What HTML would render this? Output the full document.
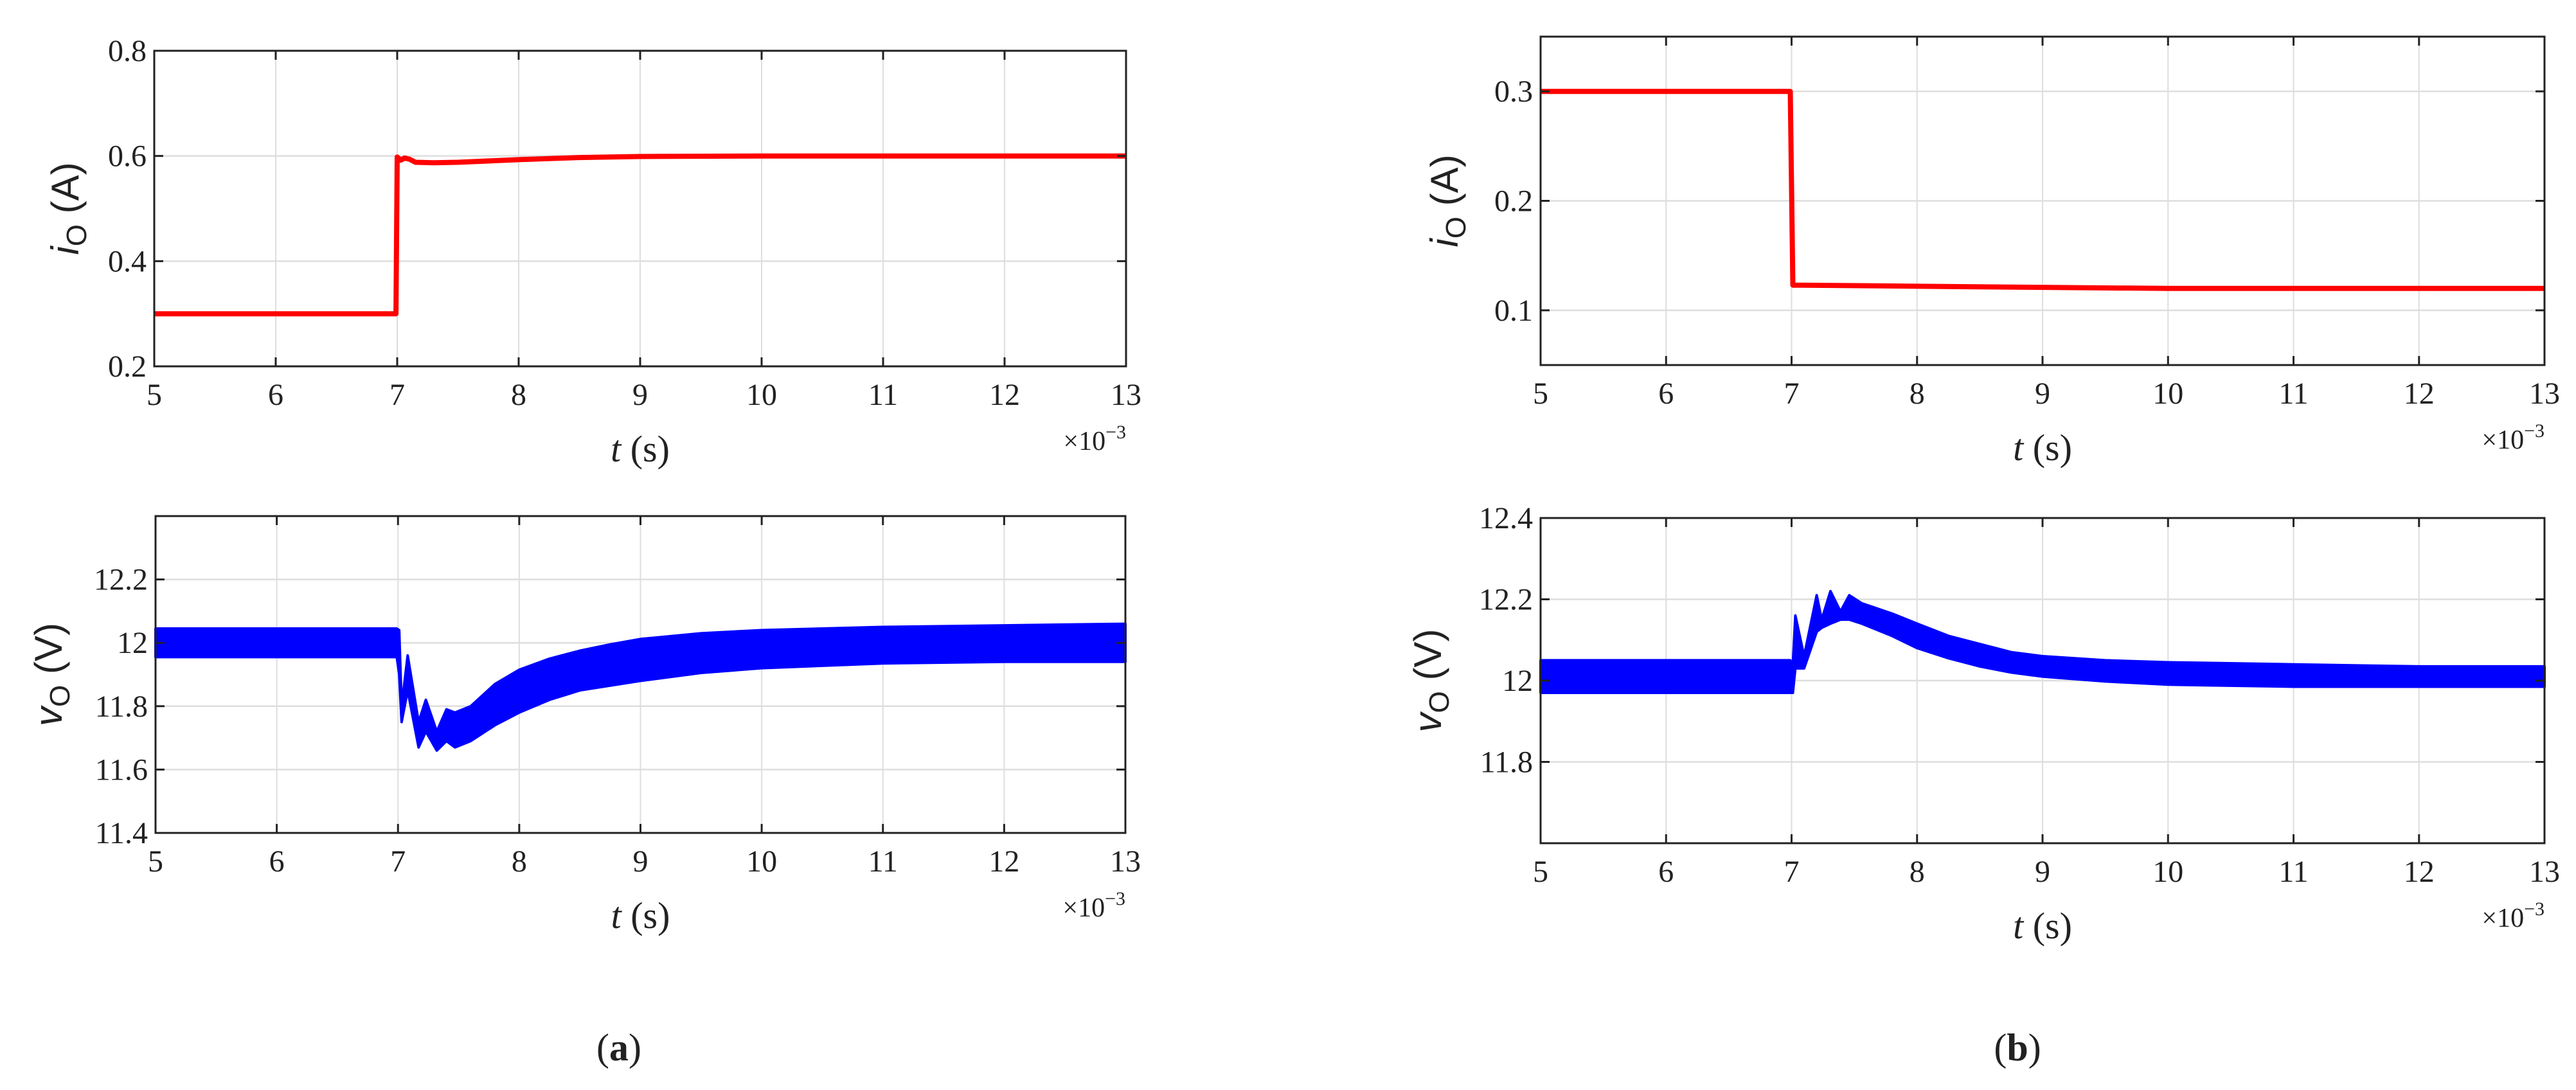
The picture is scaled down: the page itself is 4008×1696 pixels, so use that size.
<!DOCTYPE html>
<html><head><meta charset="utf-8"><style>
html,body{margin:0;padding:0;background:#fff;}
svg{display:block;}
</style></head><body>
<svg id="fig" xmlns="http://www.w3.org/2000/svg" width="4008" height="1696" viewBox="0 0 4008 1696"></svg>
<script>
// ---- data ----
const xTicks = [5,6,7,8,9,10,11,12,13];
// (a) top: output current
const aiT = [5, 6.99, 7.0, 7.03, 7.06, 7.1, 7.15, 7.3, 7.5, 8, 8.5, 9, 10, 11, 12, 13];
const aiV = [0.3, 0.3, 0.598, 0.592, 0.596, 0.594, 0.588, 0.587, 0.588, 0.593, 0.597, 0.599, 0.6, 0.6, 0.6, 0.6];
const aiYTicks = [0.2, 0.4, 0.6, 0.8];
// (a) bottom: output voltage envelope
const avT = [5, 6.99, 7.01, 7.03, 7.08, 7.17, 7.23, 7.32, 7.4, 7.47, 7.6, 7.8, 8.0, 8.25, 8.5, 8.75, 9, 9.5, 10, 11, 12, 13];
const avUp = [12.045, 12.045, 12.04, 11.8, 11.96, 11.75, 11.82, 11.72, 11.79, 11.78, 11.80, 11.87, 11.915, 11.95, 11.975, 11.995, 12.012, 12.03, 12.04, 12.05, 12.055, 12.06];
const avLo = [11.955, 11.955, 11.9, 11.75, 11.85, 11.67, 11.72, 11.66, 11.69, 11.67, 11.69, 11.74, 11.78, 11.82, 11.85, 11.865, 11.88, 11.905, 11.92, 11.935, 11.94, 11.94];
const avYTicks = [11.4, 11.6, 11.8, 12, 12.2];
// (b) top: output current
const biT = [5, 6.99, 7.01, 7.1, 8, 9, 10, 11, 12, 13];
const biV = [0.3, 0.3, 0.123, 0.123, 0.122, 0.121, 0.12, 0.12, 0.12, 0.12];
const biYTicks = [0.1, 0.2, 0.3];
// (b) bottom: output voltage envelope
const bvT = [5, 6.99, 7.01, 7.03, 7.1, 7.2, 7.24, 7.31, 7.39, 7.46, 7.56, 7.8, 8, 8.25, 8.5, 8.75, 9, 9.5, 10, 11, 12, 13];
const bvUp = [12.05, 12.05, 12.04, 12.16, 12.06, 12.21, 12.15, 12.22, 12.17, 12.21, 12.19, 12.165, 12.14, 12.11, 12.09, 12.07, 12.06, 12.05, 12.045, 12.04, 12.035, 12.035];
const bvLo = [11.97, 11.97, 11.97, 12.03, 12.03, 12.12, 12.13, 12.14, 12.15, 12.15, 12.14, 12.11, 12.08, 12.055, 12.035, 12.02, 12.01, 11.998, 11.99, 11.985, 11.985, 11.985];
const bvYTicks = [11.8, 12, 12.2, 12.4];

const NS = "http://www.w3.org/2000/svg";
const svg = document.getElementById('fig');
function el(tag, attrs, parent){ const e=document.createElementNS(NS,tag); for(const k in attrs) e.setAttribute(k,attrs[k]); (parent||svg).appendChild(e); return e; }

function panel(p){
  const g = el('g',{});
  
  
  const xs = t => p.x0 + (t-5)/8*(p.x1-p.x0);
  const ys = v => p.y1 - (v-p.ymin)/(p.ymax-p.ymin)*(p.y1-p.y0);
  xTicks.forEach(t=>{ if(t>5&&t<13){ const l=el('line',{x1:xs(t),x2:xs(t),y1:p.y0,y2:p.y1,stroke:'#dedede','stroke-width':2},g);
      }});
  p.yTicks.forEach(v=>{ if(v>p.ymin&&v<p.ymax){ const l=el('line',{x1:p.x0,x2:p.x1,y1:ys(v),y2:ys(v),stroke:'#dedede','stroke-width':2.5},g);
      }});
  if(p.type==='line'){
    const d = p.t.map((t,i)=>(i?'L':'M')+xs(t).toFixed(1)+','+ys(p.v[i]).toFixed(1)).join('');
    const s = el('path',{d:d,fill:'none',stroke:'#ff0000','stroke-width':8,'stroke-linejoin':'round'},g);
     
  } else {
    let d = p.t.map((t,i)=>(i?'L':'M')+xs(t).toFixed(1)+','+ys(p.up[i]).toFixed(1)).join('');
    for(let i=p.t.length-1;i>=0;i--) d += 'L'+xs(p.t[i]).toFixed(1)+','+ys(p.lo[i]).toFixed(1);
    d += 'Z';
    const s = el('path',{d:d,fill:'#0000ff',stroke:'#0000ff','stroke-width':4,'stroke-linejoin':'round'},g);
     
  }
  const b = el('rect',{x:p.x0,y:p.y0,width:p.x1-p.x0,height:p.y1-p.y0,fill:'none',stroke:'#222','stroke-width':3},g);
   
  xTicks.forEach(t=>{
    el('line',{x1:xs(t),x2:xs(t),y1:p.y1,y2:p.y1-14,stroke:'#222','stroke-width':3},g);
    el('line',{x1:xs(t),x2:xs(t),y1:p.y0,y2:p.y0+14,stroke:'#222','stroke-width':3},g);
    const tx = el('text',{x:xs(t),y:p.y1+60,'text-anchor':'middle','font-family':'Liberation Serif, serif','font-size':48,fill:'#222'},g);
    tx.textContent = t;
     
  });
  p.yTicks.forEach(v=>{
    el('line',{x1:p.x0,x2:p.x0+14,y1:ys(v),y2:ys(v),stroke:'#222','stroke-width':3},g);
    el('line',{x1:p.x1,x2:p.x1-14,y1:ys(v),y2:ys(v),stroke:'#222','stroke-width':3},g);
    const tx = el('text',{x:p.x0-12,y:ys(v)+16,'text-anchor':'end','font-family':'Liberation Serif, serif','font-size':48,fill:'#222'},g);
    tx.textContent = v;
     
  });
  const xt = el('text',{x:(p.x0+p.x1)/2,y:p.y1+148,'text-anchor':'middle','font-family':'Liberation Serif, serif','font-size':58,fill:'#222'},g);
  xt.innerHTML = '<tspan font-style="italic">t</tspan> (s)';
   
  const ex = el('text',{x:p.x1,y:p.y1+130,'text-anchor':'end','font-family':'Liberation Serif, serif','font-size':42,fill:'#222'},g);
  ex.innerHTML = '×10<tspan dy="-18" font-size="30">−3</tspan>';
   
  const cy = (p.y0+p.y1)/2;
  const yt = el('text',{x:p.lx,y:cy,'text-anchor':'middle','font-family':'Liberation Sans, sans-serif','font-size':60,fill:'#222',transform:'rotate(-90 '+p.lx+' '+cy+')'},g);
  yt.innerHTML = '<tspan font-style="italic">'+p.sym+'</tspan><tspan font-size="44" dy="12">O</tspan><tspan dy="-12"> ('+p.unit+')</tspan>';
   
}

panel({name:'panel-a-current',x0:240,x1:1752,y0:79,y1:570,ymin:0.2,ymax:0.8,yTicks:aiYTicks,type:'line',t:aiT,v:aiV,lx:122,sym:'i',unit:'A'});
panel({name:'panel-a-voltage',x0:242,x1:1751,y0:803,y1:1296,ymin:11.4,ymax:12.4,yTicks:avYTicks,type:'band',t:avT,up:avUp,lo:avLo,lx:96,sym:'v',unit:'V'});
panel({name:'panel-b-current',x0:2397,x1:3959,y0:57,y1:568,ymin:0.05,ymax:0.35,yTicks:biYTicks,type:'line',t:biT,v:biV,lx:2268,sym:'i',unit:'A'});
panel({name:'panel-b-voltage',x0:2397,x1:3959,y0:806,y1:1312,ymin:11.6,ymax:12.4,yTicks:bvYTicks,type:'band',t:bvT,up:bvUp,lo:bvLo,lx:2242,sym:'v',unit:'V'});

const ca = el('text',{x:963,y:1650,'text-anchor':'middle','font-family':'Liberation Serif, serif','font-size':60,fill:'#222'});
ca.innerHTML = '(<tspan font-weight="bold">a</tspan>)';
 
const cb = el('text',{x:3139,y:1650,'text-anchor':'middle','font-family':'Liberation Serif, serif','font-size':60,fill:'#222'});
cb.innerHTML = '(<tspan font-weight="bold">b</tspan>)';
 
</script>
</body></html>
